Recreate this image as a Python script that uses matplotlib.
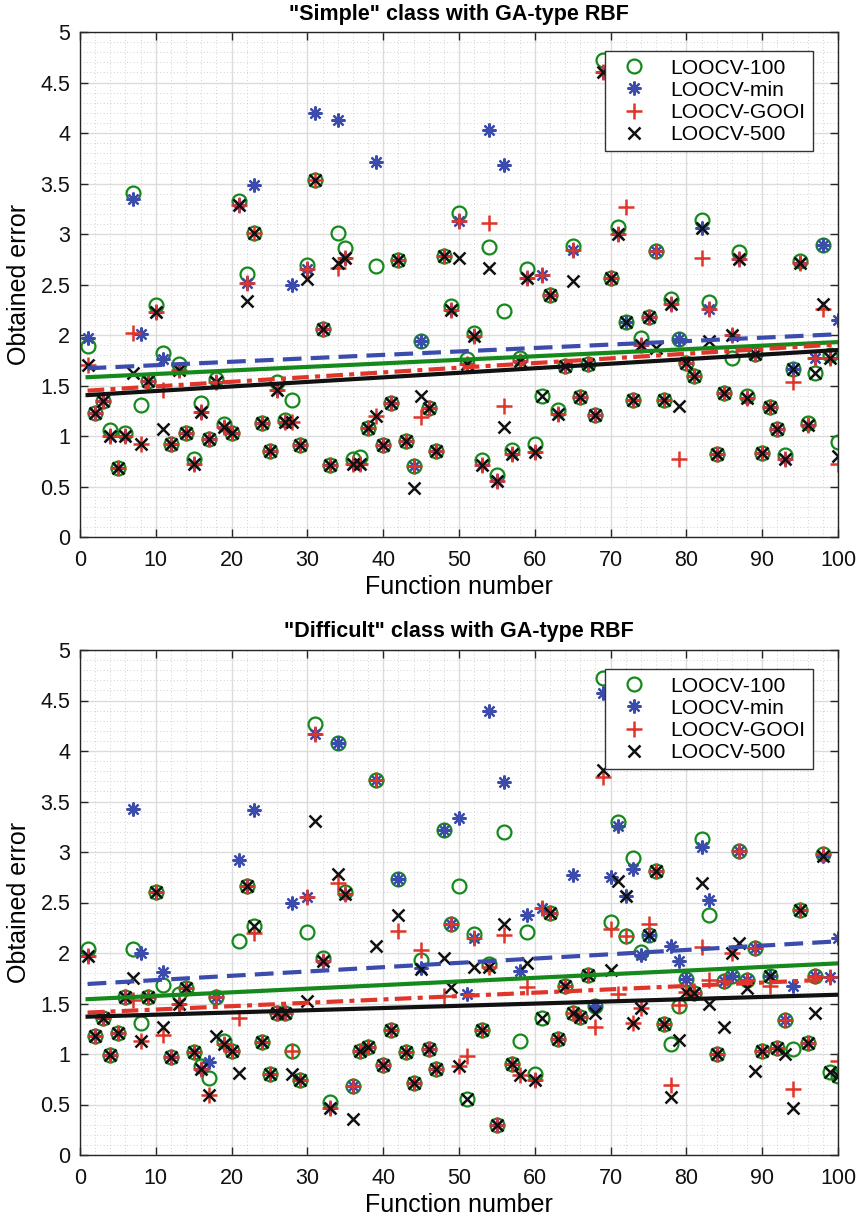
import numpy as np
import matplotlib
matplotlib.use("Agg")
import matplotlib.pyplot as plt
from matplotlib.ticker import MultipleLocator, FuncFormatter

# ============================== Data

func_number = np.arange(1, 101)

# "Simple" class
simple_loocv100 = [
    1.89, 1.23, 1.35, 1.06, 0.68, 1.03, 3.41, 1.31, 1.54, 2.30,
    1.82, 0.92, 1.71, 1.03, 0.77, 1.33, 0.97, 1.56, 1.12, 1.03,
    3.33, 2.60, 3.01, 1.13, 0.85, 1.53, 1.16, 1.36, 0.91, 2.69,
    3.53, 2.06, 0.71, 3.01, 2.86, 0.77, 0.79, 1.08, 2.68, 0.91,
    1.33, 2.74, 0.95, 0.70, 1.94, 1.28, 0.85, 2.78, 2.29, 3.21,
    1.76, 2.02, 0.76, 2.87, 0.61, 2.24, 0.86, 1.77, 2.65, 0.92,
    1.40, 2.40, 1.26, 1.69, 2.88, 1.39, 1.71, 1.21, 4.72, 2.56,
    3.07, 2.13, 1.36, 1.97, 2.18, 2.83, 1.36, 2.36, 1.96, 1.72,
    1.59, 3.14, 2.33, 0.82, 1.43, 1.77, 2.82, 1.40, 1.81, 0.83,
    1.29, 1.07, 0.81, 1.66, 2.73, 1.13, 1.62, 2.89, 1.80, 0.94,
]
simple_loocvmin = [
    1.97, 1.23, 1.35, 1.00, 0.68, 1.00, 3.35, 2.01, 1.54, 2.23,
    1.76, 0.92, 1.65, 1.03, 0.72, 1.24, 0.97, 1.53, 1.09, 1.03,
    3.29, 2.51, 3.49, 1.13, 0.85, 1.46, 1.14, 2.50, 0.91, 2.65,
    4.20, 2.06, 0.71, 4.13, 2.76, 0.72, 0.72, 1.08, 3.71, 0.91,
    1.33, 2.74, 0.95, 0.70, 1.94, 1.28, 0.85, 2.78, 2.25, 3.13,
    1.71, 1.99, 0.71, 4.03, 0.55, 3.68, 0.82, 1.74, 2.56, 0.84,
    2.59, 2.40, 1.22, 1.69, 2.84, 1.39, 1.71, 1.21, 4.60, 2.56,
    3.00, 2.13, 1.36, 1.90, 2.18, 2.83, 1.36, 2.31, 1.96, 1.72,
    1.59, 3.06, 2.26, 0.82, 1.43, 2.00, 2.75, 1.38, 1.81, 0.83,
    1.29, 1.07, 0.77, 1.66, 2.71, 1.11, 1.77, 2.89, 1.77, 2.15,
]
simple_loocvgooi = [
    1.70, 1.23, 1.35, 1.00, 0.68, 1.00, 2.02, 0.92, 1.54, 2.23,
    1.46, 0.92, 1.65, 1.03, 0.72, 1.24, 0.97, 1.53, 1.09, 1.03,
    3.29, 2.51, 3.01, 1.13, 0.85, 1.46, 1.14, 1.14, 0.91, 2.65,
    3.53, 2.06, 0.71, 2.66, 2.76, 0.72, 0.72, 1.08, 1.20, 0.91,
    1.33, 2.74, 0.95, 0.70, 1.19, 1.28, 0.85, 2.78, 2.25, 3.13,
    1.71, 1.99, 0.71, 3.11, 0.55, 1.30, 0.82, 1.74, 2.56, 0.84,
    2.59, 2.40, 1.22, 1.69, 2.84, 1.39, 1.71, 1.21, 4.60, 2.56,
    3.00, 3.27, 1.36, 1.90, 2.18, 2.83, 1.36, 2.31, 0.77, 1.72,
    1.59, 2.76, 2.26, 0.82, 1.43, 2.00, 2.75, 1.38, 1.81, 0.83,
    1.29, 1.07, 0.77, 1.53, 2.71, 1.11, 1.77, 2.26, 1.77, 0.72,
]
simple_loocv500 = [
    1.70, 1.23, 1.35, 1.00, 0.68, 1.00, 1.62, 0.92, 1.54, 2.23,
    1.07, 0.92, 1.65, 1.03, 0.72, 1.24, 0.97, 1.53, 1.09, 1.03,
    3.29, 2.34, 3.01, 1.13, 0.85, 1.46, 1.14, 1.14, 0.91, 2.55,
    3.53, 2.06, 0.71, 2.71, 2.76, 0.72, 0.72, 1.08, 1.20, 0.91,
    1.33, 2.74, 0.95, 0.49, 1.40, 1.28, 0.85, 2.78, 2.25, 2.76,
    1.71, 1.99, 0.71, 2.66, 0.55, 1.09, 0.82, 1.74, 2.56, 0.84,
    1.40, 2.40, 1.22, 1.69, 2.53, 1.39, 1.71, 1.21, 4.60, 2.56,
    3.00, 2.13, 1.36, 1.90, 2.18, 1.87, 1.36, 2.31, 1.30, 1.72,
    1.59, 3.06, 1.94, 0.82, 1.43, 2.00, 2.75, 1.38, 1.81, 0.83,
    1.29, 1.07, 0.77, 1.66, 2.71, 1.11, 1.62, 2.31, 1.77, 0.80,
]

# "Difficult" class
difficult_loocv100 = [
    2.04, 1.18, 1.36, 0.99, 1.21, 1.56, 2.04, 1.31, 1.56, 2.60,
    1.68, 0.97, 1.59, 1.65, 1.02, 0.88, 0.76, 1.56, 1.13, 1.03,
    2.12, 2.66, 2.27, 1.12, 0.80, 1.41, 1.41, 1.03, 0.74, 2.21,
    4.27, 1.95, 0.52, 4.08, 2.60, 0.68, 1.03, 1.07, 3.71, 0.89,
    1.24, 2.73, 1.02, 0.71, 1.93, 1.05, 0.85, 3.22, 2.29, 2.66,
    0.55, 2.19, 1.24, 1.89, 0.30, 3.20, 0.90, 1.13, 2.21, 0.80,
    1.36, 2.40, 1.15, 1.67, 1.41, 1.37, 1.78, 1.48, 4.72, 2.31,
    3.30, 2.17, 2.94, 2.01, 2.18, 2.81, 1.30, 1.10, 1.48, 1.74,
    1.60, 3.13, 2.38, 1.00, 1.72, 1.77, 3.01, 1.73, 2.05, 1.03,
    1.77, 1.06, 1.34, 1.05, 2.43, 1.11, 1.77, 2.98, 0.82, 0.78,
]
difficult_loocvmin = [
    1.97, 1.18, 1.36, 0.99, 1.21, 1.56, 3.43, 2.00, 1.56, 2.60,
    1.81, 0.97, 1.50, 1.65, 1.02, 0.85, 0.92, 1.56, 1.10, 1.03,
    2.92, 2.66, 3.42, 1.12, 0.80, 1.41, 1.41, 2.50, 0.74, 2.55,
    4.17, 1.92, 0.47, 4.08, 2.58, 0.68, 1.03, 1.07, 3.71, 0.89,
    1.24, 2.73, 1.02, 0.71, 1.85, 1.05, 0.85, 3.22, 2.29, 3.34,
    1.59, 2.15, 1.24, 4.40, 0.30, 3.69, 0.90, 1.82, 2.38, 0.74,
    2.45, 2.40, 1.15, 1.67, 2.77, 1.37, 1.78, 1.48, 4.57, 2.75,
    3.26, 2.56, 2.83, 1.98, 2.18, 2.81, 1.30, 2.07, 1.92, 1.74,
    1.60, 3.05, 2.52, 1.00, 1.72, 1.77, 3.01, 1.73, 2.05, 1.03,
    1.77, 1.06, 1.34, 1.67, 2.43, 1.11, 1.77, 2.96, 1.76, 2.15,
]
difficult_loocvgooi = [
    1.97, 1.18, 1.36, 0.99, 1.21, 1.56, 1.53, 1.13, 1.56, 2.60,
    1.19, 0.97, 1.50, 1.65, 1.02, 0.85, 0.59, 1.56, 1.10, 1.03,
    1.36, 2.66, 2.20, 1.12, 0.80, 1.41, 1.41, 1.03, 0.74, 2.55,
    4.17, 1.92, 0.47, 2.69, 2.58, 0.68, 1.03, 1.07, 3.71, 0.89,
    1.24, 2.22, 1.02, 0.71, 2.03, 1.05, 0.85, 1.57, 2.29, 0.88,
    0.98, 2.15, 1.24, 1.86, 0.30, 2.18, 0.90, 0.79, 1.66, 0.74,
    2.45, 2.40, 1.15, 1.67, 1.41, 1.37, 1.78, 1.27, 3.74, 2.24,
    1.59, 2.17, 1.31, 1.46, 2.29, 2.81, 1.30, 0.69, 1.49, 1.61,
    1.60, 2.06, 1.73, 1.00, 1.72, 2.00, 3.01, 1.73, 2.05, 1.03,
    1.67, 1.06, 1.34, 0.65, 2.43, 1.11, 1.77, 2.98, 1.76, 0.93,
]
difficult_loocv500 = [
    1.97, 1.18, 1.36, 0.99, 1.21, 1.56, 1.75, 1.13, 1.56, 2.60,
    1.27, 0.97, 1.50, 1.65, 1.02, 0.85, 0.59, 1.18, 1.10, 1.03,
    0.81, 2.66, 2.27, 1.12, 0.80, 1.41, 1.41, 0.80, 0.74, 1.52,
    3.31, 1.92, 0.47, 2.78, 2.58, 0.36, 1.03, 1.07, 2.07, 0.89,
    1.24, 2.38, 1.02, 0.71, 1.84, 1.05, 0.85, 1.95, 1.66, 0.88,
    0.55, 1.86, 1.24, 1.86, 0.30, 2.29, 0.90, 0.79, 1.90, 0.74,
    1.36, 2.40, 1.15, 1.67, 1.41, 1.37, 1.78, 1.41, 3.81, 1.83,
    2.71, 2.56, 1.31, 1.46, 2.18, 2.81, 1.30, 0.57, 1.14, 1.61,
    1.60, 2.69, 1.50, 1.00, 1.27, 2.00, 2.10, 1.65, 0.83, 1.03,
    1.77, 1.06, 1.00, 0.47, 2.43, 1.11, 1.41, 2.96, 0.82, 0.78,
]

series_labels = ["LOOCV-100", "LOOCV-min", "LOOCV-GOOI", "LOOCV-500"]
panel_titles = ['"Simple" class with GA-type RBF', '"Difficult" class with GA-type RBF']

# ============================== Style

GREEN = "#16891c"
BLUE = "#3b4cad"
RED = "#e0352b"
BLACK = "#111111"

plt.rcParams["font.family"] = ["Liberation Sans", "DejaVu Sans"]

marker_styles = [
    dict(marker="o", ms=10, mfc="none", mec=GREEN, mew=1.6),
    dict(marker=(8, 2, 0), ms=10, mfc=BLUE, mec=BLUE, mew=1.6),
    dict(marker="+", ms=12, mfc=RED, mec=RED, mew=1.8),
    dict(marker="x", ms=8, mfc=BLACK, mec=BLACK, mew=1.8),
]
trend_styles = [
    dict(color=GREEN, ls="-", lw=3.0),
    dict(color=BLUE, ls=(0, (4.5, 2.2)), lw=3.0),
    dict(color=RED, ls=(0, (4, 1.5, 1.2, 1.5)), lw=3.0),
    dict(color=BLACK, ls="-", lw=3.0),
]


def draw_panel(ax, series, title):
    for y, ms, lab in zip(series, marker_styles, series_labels):
        ax.plot(func_number, y, ls="none", label=lab, **ms)

    # droite de tendance (fit lineaire) pour chaque serie
    for y, ts in zip(series, trend_styles):
        coef = np.polyfit(func_number, y, 1)
        ax.plot(func_number, np.polyval(coef, func_number), **ts)

    ax.set_xlim(0, 100)
    ax.set_ylim(0, 5)
    ax.xaxis.set_major_locator(MultipleLocator(10))
    ax.xaxis.set_minor_locator(MultipleLocator(2))
    ax.yaxis.set_major_locator(MultipleLocator(0.5))
    ax.yaxis.set_minor_locator(MultipleLocator(0.1))
    ax.yaxis.set_major_formatter(FuncFormatter(lambda v, p: f"{v:g}"))

    ax.grid(True, which="major", color="#dcdcdc", lw=1.0)
    ax.grid(True, which="minor", color="#c4c4c4", lw=0.6, ls=(0, (1, 3)))
    ax.set_axisbelow(True)

    ax.tick_params(which="both", direction="in", top=True, right=True,
                   colors="#262626", labelsize=15.5, labelcolor="#111111")
    ax.tick_params(which="major", length=6, width=1.0)
    ax.tick_params(axis="x", which="major", pad=9)
    ax.tick_params(axis="y", which="major", pad=7)
    ax.tick_params(which="minor", length=0)
    for sp in ax.spines.values():
        sp.set_color("#262626")
        sp.set_linewidth(1.0)

    ax.set_title(title, fontsize=15.5, fontweight="bold", pad=9)
    ax.set_xlabel("Function number", fontsize=18, labelpad=3)
    ax.set_ylabel("Obtained error", fontsize=18, labelpad=7)

    leg = ax.legend(loc="upper right", bbox_to_anchor=(0.967, 0.962),
                    borderaxespad=0, fontsize=15.2, frameon=True,
                    fancybox=False, framealpha=1, edgecolor="#333333",
                    handlelength=2.0, handletextpad=0.75, labelspacing=0.15,
                    borderpad=0.35)
    leg.get_frame().set_linewidth(1.0)


# ============================== Figure

fig = plt.figure(figsize=(8.59, 12.2), dpi=100)
ax_top = fig.add_axes([80 / 859, 1 - 537 / 1220, 758 / 859, 505 / 1220])
ax_bot = fig.add_axes([80 / 859, 1 - 1155 / 1220, 758 / 859, 505 / 1220])

draw_panel(ax_top, [simple_loocv100, simple_loocvmin, simple_loocvgooi, simple_loocv500],
           panel_titles[0])
draw_panel(ax_bot, [difficult_loocv100, difficult_loocvmin, difficult_loocvgooi, difficult_loocv500],
           panel_titles[1])

fig.savefig("out.png", dpi=100)
